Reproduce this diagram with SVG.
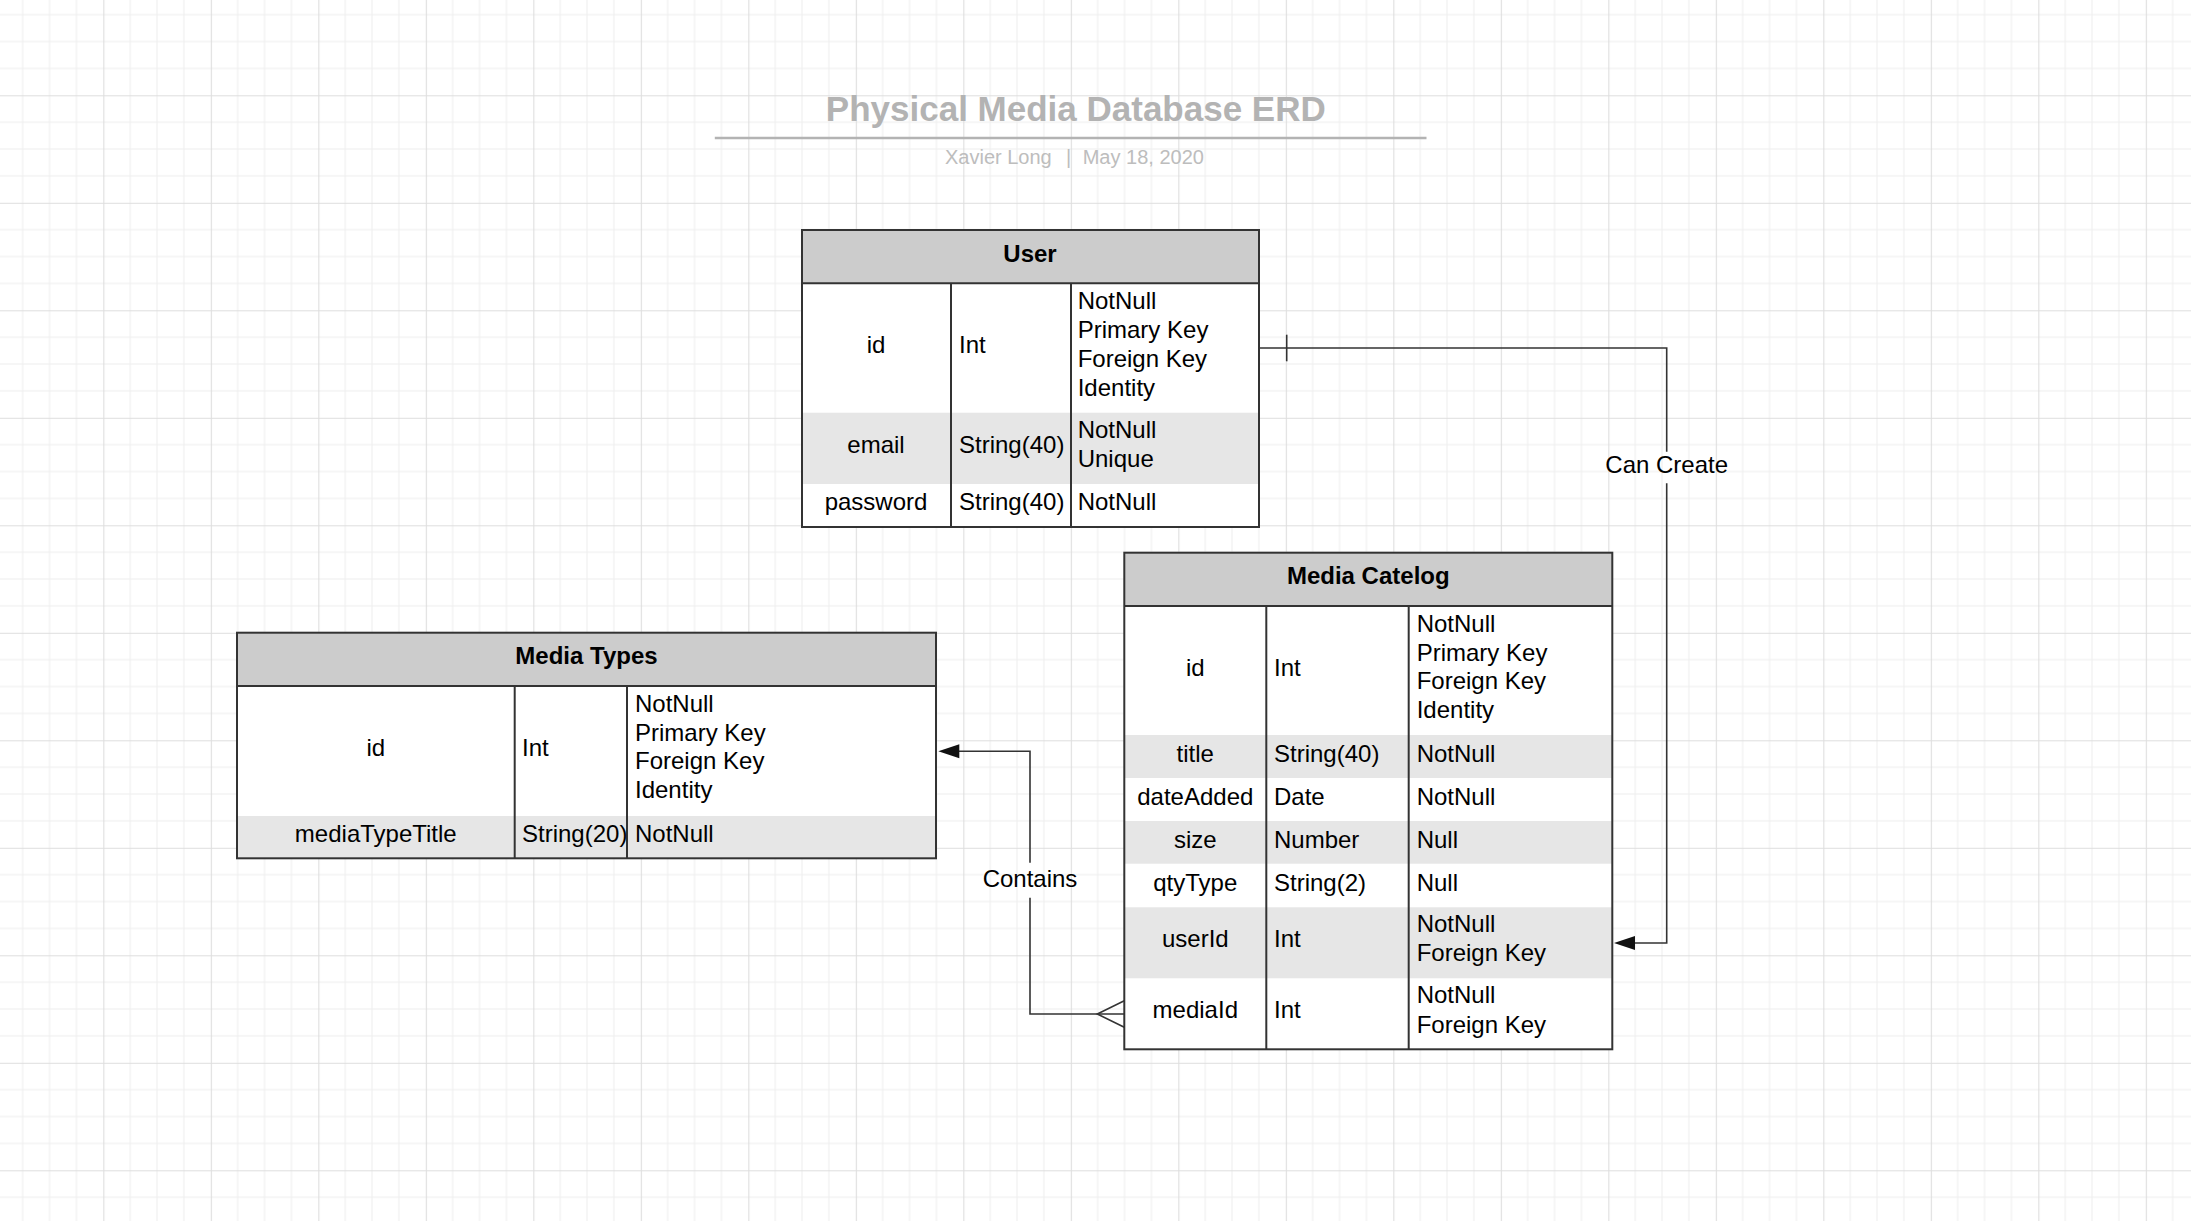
<svg xmlns="http://www.w3.org/2000/svg" width="2191" height="1221" viewBox="0 0 2191 1221">
<defs>
<pattern id="grid" patternUnits="userSpaceOnUse" x="103.3" y="95.3" width="107.5" height="107.5">
<path d="M26.875,0V107.5M53.75,0V107.5M80.625,0V107.5M0,26.875H107.5M0,53.75H107.5M0,80.625H107.5" stroke="#eeeeee" stroke-width="1" fill="none"/>
<path d="M0.5,0V107.5M0,0.5H107.5" stroke="#dedede" stroke-width="1.2" fill="none"/>
</pattern>
</defs>
<style>
.frame{fill:none;stroke:#333333;stroke-width:2}
.head{fill:#cccccc}
.shade{fill:#e6e6e6}
.body{fill:#ffffff}
.div{stroke:#333333;stroke-width:2}
text{font-family:"Liberation Sans",Arial,sans-serif;font-size:24px;fill:#000000}
.h{font-weight:bold;text-anchor:middle}
.c{text-anchor:middle}
.conn{fill:none;stroke:#333333;stroke-width:1.6}
.arrow{fill:#111111}
.title{font-size:35px;font-weight:bold;fill:#b3b3b3;text-anchor:middle}
.sub{font-size:20px;fill:#bdbdbd}
</style>
<rect width="2191" height="1221" fill="#ffffff"/>
<rect width="2191" height="1221" fill="url(#grid)"/>

<g id="title">
<text class="title" x="1075.8" y="121">Physical Media Database ERD</text>
<line x1="714.8" y1="138" x2="1426.5" y2="138" stroke="#b3b3b3" stroke-width="2.6"/>
<text class="sub" y="164.3"><tspan x="945">Xavier Long</tspan><tspan x="1066">|</tspan><tspan x="1082.7">May 18, 2020</tspan></text>
</g>

<g id="connectors">
<path class="conn" d="M1259,348H1666.7V451.7M1666.7,483.3V943H1634"/>
<line class="conn" x1="1286.7" y1="334.7" x2="1286.7" y2="361.3"/>
<polygon class="arrow" points="1614,943 1635,936 1635,950"/>
<text class="c" x="1666.7" y="472.7">Can Create</text>
<path class="conn" d="M958,751.3H1030V862.7M1030,897.7V1014H1124.3"/>
<polygon class="arrow" points="938.3,751.3 959.3,744.3 959.3,758.3"/>
<path class="conn" d="M1124.3,1000.7L1097.3,1014L1124.3,1027.3"/>
<text class="c" x="1030" y="886.7">Contains</text>
</g>

<g id="user">
<rect class="body" x="802" y="230" width="457" height="297"/>
<rect class="head" x="802" y="230" width="457" height="53.3"/>
<rect class="shade" x="802" y="412.7" width="457" height="71.3"/>
<line class="div" x1="802" y1="283.3" x2="1259" y2="283.3"/>
<line class="div" x1="951" y1="283.3" x2="951" y2="527"/>
<line class="div" x1="1071" y1="283.3" x2="1071" y2="527"/>
<rect class="frame" x="802" y="230" width="457" height="297"/>
<text class="h" x="1030" y="262">User</text>
<text class="c" x="876" y="352.7">id</text>
<text x="959" y="352.7">Int</text>
<text x="1077.7" y="309.3">NotNull</text>
<text x="1077.7" y="338.3">Primary Key</text>
<text x="1077.7" y="366.7">Foreign Key</text>
<text x="1077.7" y="395.7">Identity</text>
<text class="c" x="876" y="453.3">email</text>
<text x="959" y="453.3">String(40)</text>
<text x="1077.7" y="438.3">NotNull</text>
<text x="1077.7" y="466.7">Unique</text>
<text class="c" x="876" y="510">password</text>
<text x="959" y="510">String(40)</text>
<text x="1077.7" y="510">NotNull</text>
</g>

<g id="media-catelog">
<rect class="body" x="1124.3" y="552.7" width="488" height="496.6"/>
<rect class="head" x="1124.3" y="552.7" width="488" height="53.3"/>
<rect class="shade" x="1124.3" y="735" width="488" height="43"/>
<rect class="shade" x="1124.3" y="821" width="488" height="42.7"/>
<rect class="shade" x="1124.3" y="907.3" width="488" height="71"/>
<line class="div" x1="1124.3" y1="606" x2="1612.3" y2="606"/>
<line class="div" x1="1266.3" y1="606" x2="1266.3" y2="1049.3"/>
<line class="div" x1="1408.7" y1="606" x2="1408.7" y2="1049.3"/>
<rect class="frame" x="1124.3" y="552.7" width="488" height="496.6"/>
<text class="h" x="1368.3" y="584.3">Media Catelog</text>
<text class="c" x="1195.3" y="676">id</text>
<text x="1274" y="676">Int</text>
<text x="1416.7" y="631.7">NotNull</text>
<text x="1416.7" y="660.7">Primary Key</text>
<text x="1416.7" y="689.3">Foreign Key</text>
<text x="1416.7" y="718.3">Identity</text>
<text class="c" x="1195.3" y="761.7">title</text>
<text x="1274" y="761.7">String(40)</text>
<text x="1416.7" y="761.7">NotNull</text>
<text class="c" x="1195.3" y="805">dateAdded</text>
<text x="1274" y="805">Date</text>
<text x="1416.7" y="805">NotNull</text>
<text class="c" x="1195.3" y="848.3">size</text>
<text x="1274" y="848.3">Number</text>
<text x="1416.7" y="848.3">Null</text>
<text class="c" x="1195.3" y="891">qtyType</text>
<text x="1274" y="891">String(2)</text>
<text x="1416.7" y="891">Null</text>
<text class="c" x="1195.3" y="947.3">userId</text>
<text x="1274" y="947.3">Int</text>
<text x="1416.7" y="932.3">NotNull</text>
<text x="1416.7" y="961">Foreign Key</text>
<text class="c" x="1195.3" y="1018.3">mediaId</text>
<text x="1274" y="1018.3">Int</text>
<text x="1416.7" y="1003.3">NotNull</text>
<text x="1416.7" y="1032.7">Foreign Key</text>
</g>

<g id="media-types">
<rect class="body" x="237" y="632.7" width="699" height="225.6"/>
<rect class="head" x="237" y="632.7" width="699" height="53.3"/>
<rect class="shade" x="237" y="816" width="699" height="42.3"/>
<line class="div" x1="237" y1="686" x2="936" y2="686"/>
<line class="div" x1="514.7" y1="686" x2="514.7" y2="858.3"/>
<line class="div" x1="627" y1="686" x2="627" y2="858.3"/>
<rect class="frame" x="237" y="632.7" width="699" height="225.6"/>
<text class="h" x="586.5" y="664.3">Media Types</text>
<text class="c" x="375.8" y="756">id</text>
<text x="522" y="756">Int</text>
<text x="635" y="711.7">NotNull</text>
<text x="635" y="740.7">Primary Key</text>
<text x="635" y="769.3">Foreign Key</text>
<text x="635" y="798.3">Identity</text>
<text class="c" x="375.8" y="841.7">mediaTypeTitle</text>
<text x="522" y="841.7">String(20)</text>
<text x="635" y="841.7">NotNull</text>
</g>
</svg>
